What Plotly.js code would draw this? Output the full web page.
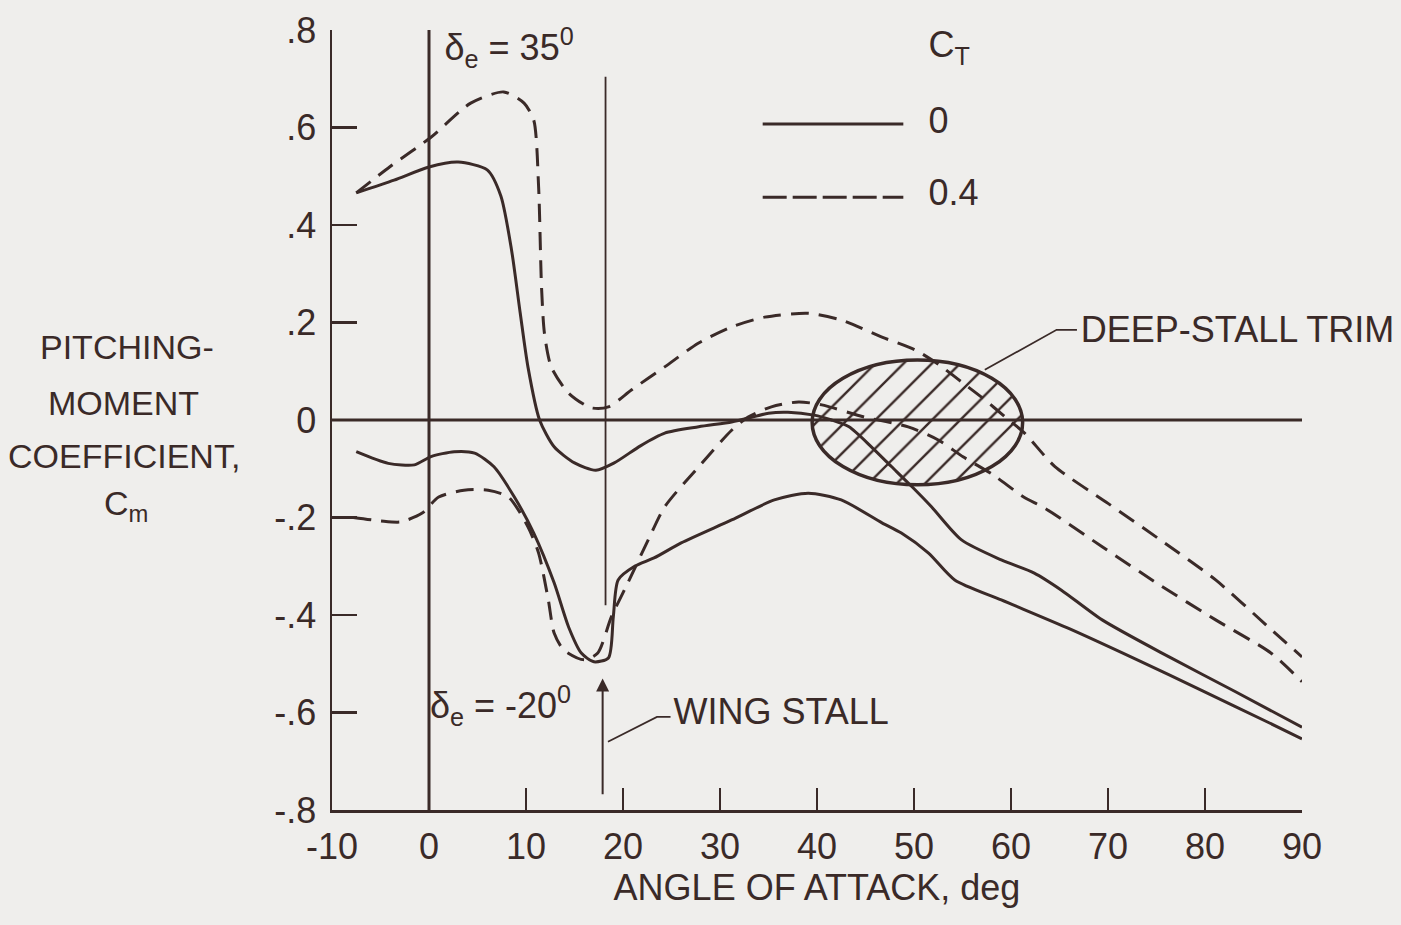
<!DOCTYPE html>
<html>
<head>
<meta charset="utf-8">
<script src="https://cdn.plot.ly/plotly-3.0.1.min.js"></script>
<style>
  html, body { margin: 0; padding: 0; background: #efeeec; }
  #chart { width: 1401px; height: 925px; }
</style>
</head>
<body>
<div id="chart"></div>
<script>
// ---- data ----
// delta_e = 35 deg, C_T = 0 (solid)
const alpha35ct0 = [-7.5, -3.6, 0, 3, 6, 7.4, 8.5, 9.4, 10.2, 11.4, 12.9, 15, 17.2, 19.1, 21.8, 24.3, 27.8, 31.2, 33, 35, 37, 39.7, 41.5, 43.3, 45.6, 47.7, 49.8, 51.8, 54.9, 59, 62.4, 65.2, 69.4, 76.3, 83.1, 90];
const cm35ct0    = [0.466, 0.492, 0.519, 0.529, 0.513, 0.46, 0.35, 0.22, 0.109, 0, -0.055, -0.088, -0.103, -0.088, -0.053, -0.027, -0.014, -0.004, 0.004, 0.014, 0.016, 0.01, 0.0, -0.014, -0.055, -0.096, -0.137, -0.178, -0.246, -0.287, -0.314, -0.349, -0.41, -0.486, -0.557, -0.63];

// delta_e = 35 deg, C_T = 0.4 (dashed)
const alpha35ct04 = [-7.5, -4, 0.2, 4.3, 7.7, 9.8, 10.8, 11.3, 11.6, 11.9, 12.6, 14.4, 16.7, 18.5, 20.9, 24.3, 27.8, 31.2, 34.6, 39.1, 42.5, 46.7, 50.1, 52.6, 54.9, 57.2, 59.3, 61.4, 64.5, 70, 75.4, 81.1, 86.5, 90];
const cm35ct04    = [0.466, 0.52, 0.58, 0.65, 0.673, 0.65, 0.615, 0.478, 0.273, 0.178, 0.109, 0.055, 0.025, 0.027, 0.062, 0.109, 0.158, 0.191, 0.211, 0.219, 0.205, 0.17, 0.144, 0.113, 0.078, 0.043, 0.008, -0.027, -0.095, -0.171, -0.246, -0.328, -0.424, -0.486];

// delta_e = -20 deg, C_T = 0 (solid)
const alphaM20ct0 = [-7.5, -4.2, -1.5, 0.2, 2.6, 4.7, 6.7, 8.8, 10.8, 12.9, 14.4, 15.7, 17, 18.5, 19, 19.5, 21.2, 23.2, 26, 31.2, 35.6, 39.1, 42.5, 46.7, 48.7, 51.5, 54.2, 59, 66, 72.8, 79.7, 86.6, 90];
const cmM20ct0    = [-0.065, -0.089, -0.092, -0.075, -0.065, -0.068, -0.096, -0.158, -0.232, -0.334, -0.425, -0.478, -0.496, -0.488, -0.404, -0.328, -0.30, -0.283, -0.252, -0.205, -0.164, -0.15, -0.164, -0.211, -0.232, -0.273, -0.328, -0.369, -0.428, -0.49, -0.555, -0.621, -0.654];

// delta_e = -20 deg, C_T = 0.4 (dashed)
const alphaM20ct04 = [-7.8, -5, -2.9, -0.7, 1, 3.6, 6.1, 8.2, 10.2, 11.3, 12.3, 12.9, 13.9, 16, 17.4, 18.8, 20.5, 22.6, 24.3, 27.8, 31.2, 32.9, 35.3, 38.1, 40.5, 44.9, 49.4, 52.5, 55.1, 58.2, 61.3, 63.5, 69.4, 75.3, 81.1, 86.8, 90];
const cmM20ct04    = [-0.2, -0.207, -0.209, -0.191, -0.158, -0.144, -0.144, -0.158, -0.219, -0.273, -0.369, -0.437, -0.472, -0.492, -0.478, -0.404, -0.334, -0.246, -0.178, -0.096, -0.021, 0.006, 0.027, 0.037, 0.031, 0.006, -0.014, -0.041, -0.076, -0.113, -0.158, -0.181, -0.26, -0.338, -0.41, -0.478, -0.537];

// axis ticks
const xTickVals = [-10, 0, 10, 20, 30, 40, 50, 60, 70, 80, 90];
const xTickText = ['-10', '0', '10', '20', '30', '40', '50', '60', '70', '80', '90'];
const yTickVals = [0.8, 0.6, 0.4, 0.2, 0, -0.2, -0.4, -0.6, -0.8];
const yTickText = ['.8', '.6', '.4', '.2', '0', '-.2', '-.4', '-.6', '-.8'];

// titles and labels
const xTitle = 'ANGLE OF ATTACK, deg';
const yTitleLines = ['PITCHING-', 'MOMENT', 'COEFFICIENT,', 'C<sub>m</sub>'];
const elevatorLabels = ['δ<sub>e</sub> = 35<sup>0</sup>', 'δ<sub>e</sub> = -20<sup>0</sup>'];
const legendTitle = 'C<sub>T</sub>';
const legendLabels = ['0', '0.4'];
const calloutLabels = ['WING STALL', 'DEEP-STALL TRIM'];

// annotated regions
const wingStallAlpha = 18.2;
const deepStallAlpha = [39.5, 61.2];   // ellipse extent in alpha
const deepStallCm = [-0.133, 0.123];   // ellipse extent in Cm

// ---- styling ----
const INK = '#3a2a28';
const BG = '#efeeec';
const FONT = 'Liberation Sans, Arial, sans-serif';
const FS = 36;      // tick labels, axis title, in-plot labels
const FS_Y = 34;    // horizontal y-axis title

function curve(x, y, dashed) {
  return {
    type: 'scatter', mode: 'lines', x: x, y: y, showlegend: false, hoverinfo: 'skip',
    line: { color: INK, width: 3, shape: 'spline', smoothing: 0.7, dash: dashed ? '18px,10px' : 'solid' }
  };
}

function label(texts, xs, ys, pos) {
  return {
    type: 'scatter', mode: 'text', x: xs, y: ys, text: texts, textposition: pos,
    cliponaxis: false, showlegend: false, hoverinfo: 'skip',
    textfont: { family: FONT, size: FS, color: INK }
  };
}

// hatched ellipse region (outline geometry from the extents above)
const ecx = (deepStallAlpha[0] + deepStallAlpha[1]) / 2, erx = (deepStallAlpha[1] - deepStallAlpha[0]) / 2;
const ecy = (deepStallCm[0] + deepStallCm[1]) / 2, ery = (deepStallCm[1] - deepStallCm[0]) / 2;
const ex = [], ey = [];
for (let i = 0; i <= 96; i++) {
  const t = 2 * Math.PI * i / 96;
  ex.push(ecx + erx * Math.cos(t));
  ey.push(ecy + ery * Math.sin(t));
}
const hatch = {
  type: 'scatter', mode: 'lines', x: ex, y: ey, fill: 'toself', showlegend: false, hoverinfo: 'skip',
  line: { width: 0, color: 'rgba(0,0,0,0)' },
  fillcolor: 'rgba(0,0,0,0)',
  fillpattern: { shape: '/', size: 20, solidity: 0.12, fgcolor: INK, bgcolor: 'rgba(0,0,0,0)' }
};

const traces = [
  hatch,
  curve(alpha35ct0, cm35ct0, false),
  curve(alpha35ct04, cm35ct04, true),
  curve(alphaM20ct0, cmM20ct0, false),
  curve(alphaM20ct04, cmM20ct04, true),
  // elevator deflection labels
  label(elevatorLabels, [1.6, 0.1], [0.757, -0.593], 'middle right'),
  // legend heading and entries
  label([legendTitle].concat(legendLabels), [51.5, 51.5, 51.5], [0.763, 0.607, 0.459], 'middle right'),
  // callouts
  label(calloutLabels, [25.2, 67.2], [-0.605, 0.178], 'middle right')
];

const L = 332, R = 1302, T = 30, B = 810;
const px2x = p => (p - L) / (R - L);       // pixel -> paper x
const py2y = p => (B - p) / (B - T);       // pixel -> paper y

// y-axis title, drawn horizontally to the left of the axis, one line per annotation
const yTitleX = [127, 123, 124, 126];
const yTitleY = [347, 403, 456, 505];
const yTitleAnns = yTitleLines.map((t, i) => ({
  text: t, x: px2x(yTitleX[i]), y: py2y(yTitleY[i]), xref: 'paper', yref: 'paper',
  xanchor: 'center', yanchor: 'middle', showarrow: false,
  font: { family: FONT, size: FS_Y, color: INK }
}));

const layout = {
  width: 1401, height: 925,
  paper_bgcolor: BG, plot_bgcolor: BG,
  margin: { l: L, r: 1401 - R, t: T, b: 925 - B },
  font: { family: FONT, size: FS, color: INK },
  showlegend: false,
  xaxis: {
    range: [-10, 90], showgrid: false, zeroline: false,
    showline: true, linecolor: INK, linewidth: 2.5,
    ticks: 'inside', ticklen: 22, tickwidth: 2.5, tickcolor: INK,
    tickmode: 'array', tickvals: xTickVals, ticktext: xTickText,
    tickfont: { family: FONT, size: FS, color: INK }, ticklabelstandoff: 3,
    title: { text: xTitle, font: { family: FONT, size: FS, color: INK }, standoff: 9 }
  },
  yaxis: {
    range: [-0.8, 0.8], showgrid: false, zeroline: false,
    showline: true, linecolor: INK, linewidth: 2.5,
    ticks: 'inside', ticklen: 25, tickwidth: 2.5, tickcolor: INK,
    tickmode: 'array', tickvals: yTickVals, ticktext: yTickText,
    tickfont: { family: FONT, size: FS, color: INK }, ticklabelstandoff: 6
  },
  shapes: [
    // zero line and alpha = 0 line
    { type: 'line', x0: -10, x1: 90, y0: 0, y1: 0, line: { color: INK, width: 3 } },
    { type: 'line', x0: 0, x1: 0, y0: -0.8, y1: 0.8, line: { color: INK, width: 3 } },
    // wing stall reference line
    { type: 'line', x0: wingStallAlpha, x1: wingStallAlpha, y0: -0.38, y1: 0.704, line: { color: INK, width: 1.8 } },
    // legend line samples
    { type: 'line', x0: 34.4, x1: 48.9, y0: 0.607, y1: 0.607, line: { color: INK, width: 3 } },
    { type: 'line', x0: 34.4, x1: 48.9, y0: 0.457, y1: 0.457, line: { color: INK, width: 3, dash: '24px,6px' } },
    // deep stall ellipse outline
    { type: 'circle', x0: deepStallAlpha[0], x1: deepStallAlpha[1], y0: deepStallCm[0], y1: deepStallCm[1],
      line: { color: INK, width: 3.5 } },
    // leaders
    { type: 'path', path: 'M 18.45 -0.66 L 23.5 -0.609 L 24.9 -0.609', line: { color: INK, width: 1.8 } },
    { type: 'path', path: 'M 57.3 0.103 L 64.7 0.185 L 66.8 0.185', line: { color: INK, width: 1.8 } }
  ],
  annotations: yTitleAnns.concat([
    // wing stall arrow
    { x: 17.9, y: -0.53, ax: 17.9, ay: -0.771, xref: 'x', yref: 'y', axref: 'x', ayref: 'y',
      text: '', showarrow: true, arrowhead: 2, arrowsize: 1.3, arrowwidth: 2, arrowcolor: INK }
  ])
};

Plotly.newPlot('chart', traces, layout, { displayModeBar: false, staticPlot: true });
</script>
</body>
</html>
